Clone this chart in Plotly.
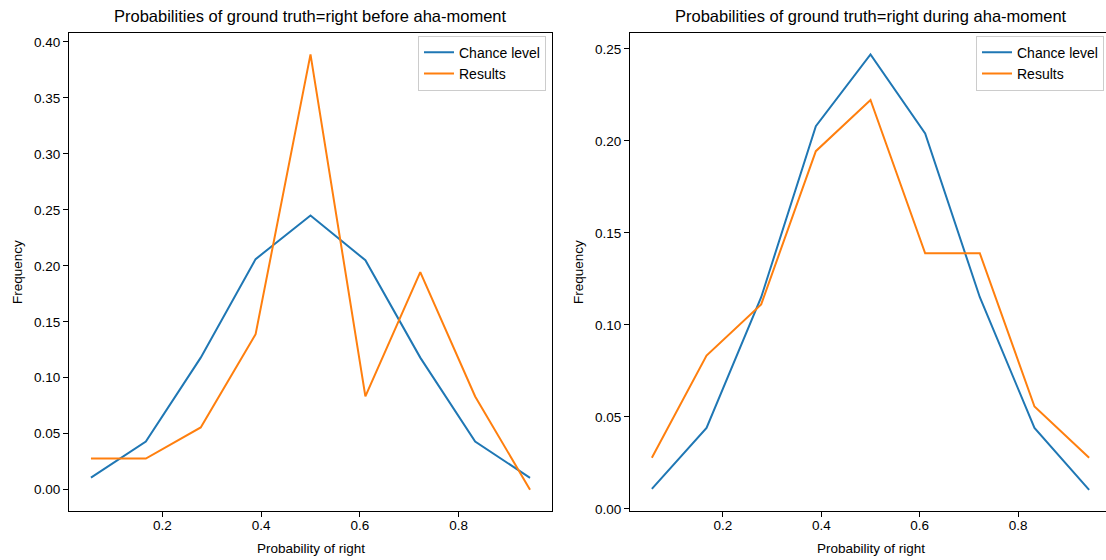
import plotly.graph_objects as go

# Bin centers (9 bins on [0, 1])
bin_centers = [1/18, 3/18, 5/18, 7/18, 9/18, 11/18, 13/18, 15/18, 17/18]

# Left panel: before aha-moment
chance_before = [0.0107, 0.043, 0.118, 0.206, 0.245, 0.205, 0.118, 0.043, 0.0105]
results_before = [0.0278, 0.0278, 0.0556, 0.1389, 0.3889, 0.0833, 0.1944, 0.0833, 0.0]

# Right panel: during aha-moment
chance_during = [0.0108, 0.044, 0.115, 0.208, 0.247, 0.204, 0.115, 0.044, 0.0103]
results_during = [0.0278, 0.0833, 0.1111, 0.1944, 0.2222, 0.1389, 0.1389, 0.0556, 0.0278]

x_ticks = [0.2, 0.4, 0.6, 0.8]
y_ticks_left = [0.0, 0.05, 0.10, 0.15, 0.20, 0.25, 0.30, 0.35, 0.40]
y_ticks_right = [0.0, 0.05, 0.10, 0.15, 0.20, 0.25]

titles = ["Probabilities of ground truth=right before aha-moment",
          "Probabilities of ground truth=right during aha-moment"]
x_label = "Probability of right"
y_label = "Frequency"
series_names = ["Chance level", "Results"]

BLUE = "#1f77b4"
ORANGE = "#ff7f0e"
FONT = "Liberation Sans, Arial, sans-serif"
TXT = "#000000"

W, H = 1106, 560
fig = go.Figure()

fig.add_trace(go.Scatter(x=bin_centers, y=chance_before, mode="lines", name=series_names[0],
                         line=dict(color=BLUE, width=2), xaxis="x", yaxis="y", legend="legend"))
fig.add_trace(go.Scatter(x=bin_centers, y=results_before, mode="lines", name=series_names[1],
                         line=dict(color=ORANGE, width=2), xaxis="x", yaxis="y", legend="legend"))
fig.add_trace(go.Scatter(x=bin_centers, y=chance_during, mode="lines", name=series_names[0],
                         line=dict(color=BLUE, width=2), xaxis="x2", yaxis="y2", legend="legend2"))
fig.add_trace(go.Scatter(x=bin_centers, y=results_during, mode="lines", name=series_names[1],
                         line=dict(color=ORANGE, width=2), xaxis="x2", yaxis="y2", legend="legend2"))

# pixel layout
left_l, left_r = 69, 552
right_l, right_full_r = 630, 1111
top_px, bot_px = 33, 516
ydom = [(H - bot_px) / H, (H - top_px) / H]

xr_lo, xr_hi = 0.0111, 0.9889
right_hi = xr_lo + (W - right_l) / (right_full_r - right_l) * (xr_hi - xr_lo)

axis_common = dict(showgrid=False, zeroline=False, showline=True, linecolor="black", linewidth=1,
                   ticks="outside", ticklen=5, tickcolor="black", tickwidth=1,
                   tickfont=dict(family=FONT, size=13.5, color=TXT))

fig.update_layout(
    width=W, height=H,
    margin=dict(l=0, r=0, t=0, b=0),
    paper_bgcolor="white", plot_bgcolor="white",
    font=dict(family=FONT, size=13.5, color=TXT),
    xaxis=dict(domain=[left_l / W, left_r / W], range=[xr_lo, xr_hi], anchor="y",
               tickvals=x_ticks, ticktext=[f"{v:.1f}" for v in x_ticks], mirror=True,
               ticklabelstandoff=-4, **axis_common),
    yaxis=dict(domain=ydom, range=[-0.0194, 0.4083], anchor="x",
               tickvals=y_ticks_left, ticktext=[f"{v:.2f}" for v in y_ticks_left], mirror=True, **axis_common),
    xaxis2=dict(domain=[right_l / W, 1.0], range=[xr_lo, right_hi], anchor="y2",
                tickvals=x_ticks, ticktext=[f"{v:.1f}" for v in x_ticks], mirror=True,
                ticklabelstandoff=-4, **axis_common),
    yaxis2=dict(domain=ydom, range=[-0.0014, 0.2588], anchor="x2",
                tickvals=y_ticks_right, ticktext=[f"{v:.2f}" for v in y_ticks_right], mirror=False, **axis_common),
    legend=dict(x=546 / W, y=(H - 36) / H, xanchor="right", yanchor="top",
                bgcolor="rgba(255,255,255,0.8)", bordercolor="#cccccc", borderwidth=1,
                font=dict(family=FONT, size=14, color=TXT)),
    legend2=dict(x=1104 / W, y=(H - 36) / H, xanchor="right", yanchor="top",
                 bgcolor="rgba(255,255,255,0.8)", bordercolor="#cccccc", borderwidth=1,
                 font=dict(family=FONT, size=14, color=TXT)),
)

annots = [
    dict(text=titles[0], x=(left_l + left_r) / 2 / W, y=(H - 16) / H, size=16.5),
    dict(text=titles[1], x=(right_l + right_full_r) / 2 / W, y=(H - 16) / H, size=16.5),
    dict(text=x_label, x=(left_l + left_r) / 2 / W, y=(H - 553) / H, size=13.5),
    dict(text=x_label, x=(right_l + right_full_r) / 2 / W, y=(H - 553) / H, size=13.5),
]
for a in annots:
    fig.add_annotation(text=a["text"], x=a["x"], y=a["y"], xref="paper", yref="paper",
                       xanchor="center", yanchor="middle", showarrow=False,
                       font=dict(family=FONT, size=a["size"], color=TXT))
for xp in [17, 578]:
    fig.add_annotation(text=y_label, x=xp / W, y=(H - (top_px + bot_px) / 2) / H, xref="paper", yref="paper",
                       xanchor="center", yanchor="middle", showarrow=False, textangle=-90,
                       font=dict(family=FONT, size=13.5, color=TXT))

fig.write_html("out.html", config={"displayModeBar": False})
